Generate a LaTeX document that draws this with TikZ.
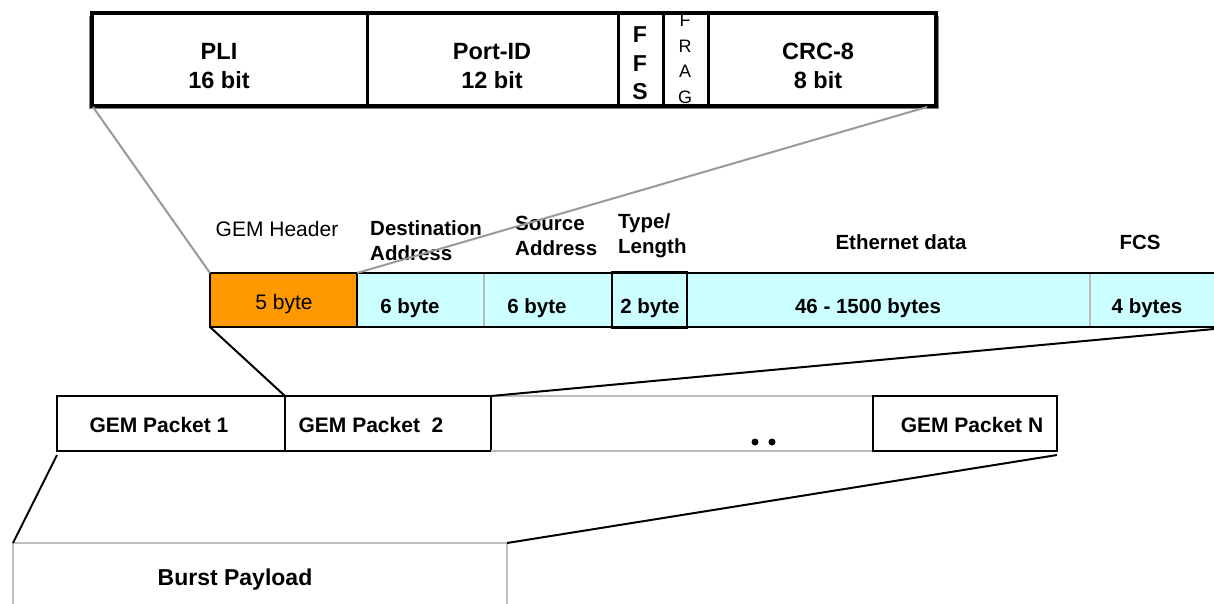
\documentclass[tikz,border=0pt]{standalone}
\usepackage{fontspec}
\setmainfont{Liberation Sans}
\definecolor{hdrorange}{HTML}{FF9900}
\definecolor{framecyan}{HTML}{CCFFFF}
\definecolor{linkgray}{HTML}{999999}
\definecolor{sepgray}{HTML}{BBBBBB}
\definecolor{burstgray}{HTML}{C0C0C0}
\begin{document}
\begin{tikzpicture}[x=1pt,y=-1pt,
  box/.style={rectangle, inner sep=0pt, outer sep=0pt, anchor=north west},
  hdrtext/.style={font=\fontsize{23.5}{29}\selectfont\bfseries, align=center, inner sep=0pt},
  ffstext/.style={font=\fontsize{23}{28.5}\selectfont\bfseries, align=center, inner sep=0pt},
  fragtext/.style={font=\fontsize{18}{25.5}\selectfont, align=center, inner sep=0pt},
  toplabel/.style={font=\fontsize{20.5}{25}\selectfont\bfseries, align=left, inner sep=0pt, anchor=west},
  plainlabel/.style={font=\fontsize{21}{25}\selectfont, inner sep=0pt, text height=15pt, text depth=0pt},
  celltext/.style={font=\fontsize{20.5}{25}\selectfont\bfseries, inner sep=0pt, text height=14.7pt, text depth=0pt},
  pkttext/.style={font=\fontsize{21}{25}\selectfont\bfseries, inner sep=0pt, text height=15pt, text depth=0pt},
  blackline/.style={black, line width=2pt},
  grayline/.style={linkgray, line width=2pt},
  sepline/.style={sepgray, line width=2pt}
]
\useasboundingbox (0,0) rectangle (1214,603);
\fill[white] (0,0) rectangle (1214,603);

% ---- GEM header fields ----
\node[box, fill=white, minimum width=844pt, minimum height=93pt] (gemhdr) at (92,13) {};
\node[hdrtext] (pli) at (219,66) {PLI\\16 bit};
\node[hdrtext] (portid) at (492,66) {Port-ID\\12 bit};
\node[ffstext] (ffs) at (640,63.5) {F\\F\\S};
\node[fragtext] (frag) at (685,59) {F\\R\\A\\G};
\node[hdrtext] (crc) at (818,66) {CRC-8\\8 bit};
\foreach \x in {367,618,663,708}
  \draw[line width=3pt] (\x,13) -- (\x,106);
\draw[gray, line width=1.2pt] (90,16) -- (90,108.5) -- (938.5,108.5) -- (938.5,16);
\draw[line width=3.2pt] (gemhdr.north west) rectangle (gemhdr.south east);

% ---- GEM frame with Ethernet payload ----
\node[box, fill=framecyan, draw, line width=2pt, minimum width=864pt, minimum height=54pt] (ethframe) at (357,273) {};
\node[box, fill=hdrorange, draw, line width=2pt, minimum width=147pt, minimum height=54pt] (gemcell) at (210,273) {};
\draw[sepline] (484,274) -- (484,326);
\draw[sepline] (1090,274) -- (1090,326);
\node[box, fill=framecyan, draw, line width=2.4pt, minimum width=75pt, minimum height=55pt] (tlcell) at (612,272.5) {};

\node[plainlabel] (gemlabel) at (277,229) {GEM Header};
\node[toplabel] (dalabel) at (370,240.5) {Destination\\Address};
\node[toplabel] (salabel) at (515,236) {Source\\Address};
\node[toplabel] (tllabel) at (618,235.5) {Type/\\Length};
\node[celltext] (edlabel) at (901,242) {Ethernet data};
\node[celltext] (fcslabel) at (1140,242) {FCS};

\node[plainlabel] at (284,302) {5 byte};
\node[celltext] at (410,306) {6 byte};
\node[celltext] at (537,306) {6 byte};
\node[celltext] at (650,306) {2 byte};
\node[celltext] at (868,306) {46 - 1500 bytes};
\node[celltext] at (1147,306) {4 bytes};

% ---- GEM packets ----
\node[box, draw, line width=2pt, minimum width=228pt, minimum height=55pt] (pkt1) at (57,396) {};
\node[box, draw, line width=2pt, minimum width=206pt, minimum height=55pt] (pkt2) at (285,396) {};
\node[box, draw, line width=2pt, minimum width=184pt, minimum height=55pt] (pktN) at (873,396) {};
\draw[sepline] (pkt2.north east) -- (pktN.north west) -- (995,396);
\draw[sepline] (pkt2.south east) -- (pktN.south west);
\draw[line width=2pt] (pktN.north west) rectangle (pktN.south east);
\node[pkttext] at (159,425) {GEM Packet 1};
\node[pkttext] at (371,425) {GEM Packet\ \ 2};
\node[pkttext] at (972,425) {GEM Packet N};
\fill (755,442) circle (3.5pt);
\fill (772,442) circle (3.5pt);

% ---- burst payload ----
\node[box, draw=burstgray, line width=2pt, minimum width=494pt, minimum height=80pt] (burst) at (13,543) {};
\node[font=\fontsize{23}{27}\selectfont\bfseries, inner sep=0pt, text height=16.5pt, text depth=0pt] (burstlabel) at (235,577) {Burst Payload};

% ---- expansion connectors ----
\coordinate (frameend) at (1214,329);
\draw[grayline] ([xshift=1pt,yshift=-1pt]gemhdr.south west) -- (gemcell.north west);
\draw[grayline] ([xshift=-9pt,yshift=-1pt]gemhdr.south east) -- (ethframe.north west);
\draw[blackline] (gemcell.south west) -- (pkt2.north west);
\draw[blackline] (frameend) -- (pkt2.north east);
\draw[blackline] ([yshift=-4pt]pkt1.south west) -- (burst.north west);
\draw[blackline] ([yshift=-4pt]pktN.south east) -- (burst.north east);
\end{tikzpicture}
\end{document}
